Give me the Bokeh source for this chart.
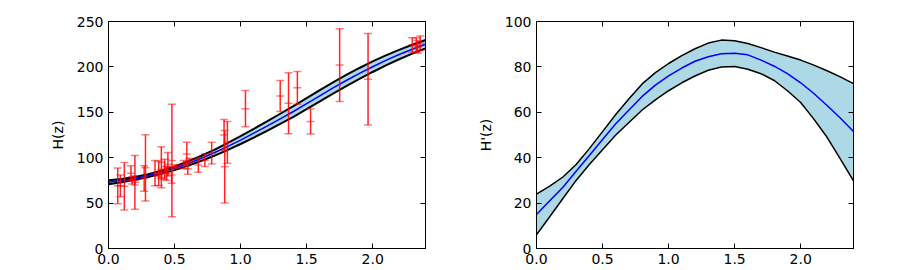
import numpy as np
from bokeh.plotting import figure
from bokeh.layouts import row
from bokeh.models import (ColumnDataSource, Whisker, TeeHead, Range1d, LinearAxis,
                          FixedTicker, PrintfTickFormatter, CustomJSTickFormatter)
from bokeh.embed import file_html
from bokeh.resources import INLINE

# ---- observational H(z) data ----
obs_z = [0.07, 0.09, 0.12, 0.17, 0.179, 0.199, 0.2, 0.27, 0.28, 0.352, 0.38, 0.3802,
         0.4, 0.4004, 0.4247, 0.43, 0.44, 0.4497, 0.4783, 0.48, 0.51, 0.57, 0.593,
         0.6, 0.61, 0.68, 0.73, 0.781, 0.875, 0.88, 0.9, 1.037, 1.3, 1.363, 1.43,
         1.53, 1.75, 1.965, 2.3, 2.33, 2.34, 2.36]
obs_H = [69, 69, 68.6, 83, 75, 75, 72.9, 77, 88.8, 83, 81.5, 83,
         95, 77, 87.1, 86.5, 82.6, 92.8, 80.9, 97, 90.4, 92.4, 104,
         87.9, 97.3, 92, 97.3, 105, 125, 90, 117, 154, 168, 160, 177,
         140, 202, 186.5, 224, 224, 222, 226]
obs_sigma = [19.6, 12, 26.2, 8, 4, 5, 29.6, 14, 36.6, 14, 1.9, 13.5,
             17, 10.2, 11.2, 3.7, 7.8, 12.9, 9, 62, 1.9, 4.5, 13,
             6.1, 2.1, 8, 7, 12, 17, 40, 23, 20, 17, 33.6, 18,
             14, 40, 50.4, 8, 8, 7, 8]

# ---- reconstructed H(z) ----
grid_z = [0.0, 0.1, 0.2, 0.3, 0.4, 0.5, 0.6, 0.7, 0.8, 0.9, 1.0, 1.1, 1.2,
          1.3, 1.4, 1.5, 1.6, 1.7, 1.8, 1.9, 2.0, 2.1, 2.2, 2.3, 2.4]
H_mean = [73, 74.8, 77.2, 80.2, 84, 88.3, 93.4, 99.1, 105.4, 112.2, 119.4, 127,
          134.8, 142.8, 150.9, 159.5, 168.2, 176.8, 185, 192.8, 200.2, 207.2,
          213.6, 219.5, 225]
H_sigma = [2.2, 1.8, 1.6, 1.6, 1.8, 2.0, 2.4, 2.8, 3.3, 3.8, 4.3, 4.8, 5.2,
           5.6, 5.9, 6.1, 6.2, 6.2, 6.1, 6.0, 5.8, 5.5, 5.2, 4.9, 4.6]

# ---- reconstructed H'(z) ----
dH_mean = [15, 21, 27, 34, 41, 48, 55, 61, 67, 72, 76, 79.5, 82.5,
           84.5, 85.8, 86, 85.3, 83, 80.3, 77, 73, 68.3, 63, 57.5, 51.5]
dH_upper = [24, 27.5, 31.5, 37, 44, 51.5, 59, 66, 72.5, 77.5, 81.5, 85, 88,
            90.5, 91.8, 91.5, 90.3, 88.5, 86.5, 84.8, 83, 80.8, 78.3, 75.6, 72.6]
dH_lower = [6, 14, 22, 30, 37, 43.5, 50, 55.5, 61, 65.5, 69.5, 73, 76,
            78.5, 80, 80.2, 79, 77, 74, 69.5, 64.3, 57, 49, 39.5, 29.8]

x_ticks = [0, 0.5, 1.0, 1.5, 2.0]
left_y_ticks = [0, 50, 100, 150, 200, 250]
right_y_ticks = [0, 20, 40, 60, 80, 100]

FONT = "DejaVu Sans"
FS = "14px"


def tick_style(ax):
    ax.major_tick_in = 5
    ax.major_tick_out = 0
    ax.minor_tick_in = 0
    ax.minor_tick_out = 0
    ax.major_tick_line_color = "black"
    ax.axis_line_color = "black"
    ax.major_label_text_font = FONT
    ax.major_label_text_font_size = FS
    ax.major_label_text_color = "black"


def style(p, yticks, ylabel):
    p.xgrid.visible = False
    p.ygrid.visible = False
    p.outline_line_color = "black"
    p.outline_line_width = 1
    p.background_fill_color = "white"
    p.border_fill_color = "white"

    bx = p.below[0]
    ly = p.left[0]
    bx.ticker = FixedTicker(ticks=x_ticks)
    bx.formatter = PrintfTickFormatter(format="%.1f")
    bx.major_label_standoff = 5
    ly.ticker = FixedTicker(ticks=yticks)
    ly.major_label_standoff = 5
    tick_style(bx)
    tick_style(ly)
    ly.axis_label = ylabel
    ly.axis_label_text_font = FONT
    ly.axis_label_text_font_size = FS
    ly.axis_label_text_font_style = "normal"
    ly.axis_label_text_color = "black"
    ly.axis_label_standoff = 8

    # tick marks on top and right, without labels
    blank = CustomJSTickFormatter(code="return ''")
    tx = LinearAxis(ticker=FixedTicker(ticks=x_ticks), formatter=blank)
    ry = LinearAxis(ticker=FixedTicker(ticks=yticks), formatter=blank)
    for ax in (tx, ry):
        tick_style(ax)
        ax.major_label_standoff = 0
    p.add_layout(tx, "above")
    p.add_layout(ry, "right")


# ---------------- left panel ----------------
p1 = figure(width=453, height=270, output_backend="svg", toolbar_location=None,
            x_range=Range1d(0, 2.4), y_range=Range1d(0, 250),
            min_border_left=108, min_border_right=28, min_border_top=21,
            min_border_bottom=22)
gz = np.array(grid_z)
hm = np.array(H_mean)
hs = np.array(H_sigma)
p1.varea(x=gz, y1=hm - hs, y2=hm + hs, fill_color="#add8e6")
p1.line(gz, hm + hs, line_color="black", line_width=2)
p1.line(gz, hm - hs, line_color="black", line_width=2)
p1.line(gz, hm, line_color="blue", line_width=1.5)

oz = np.array(obs_z)
oh = np.array(obs_H)
os_ = np.array(obs_sigma)
src = ColumnDataSource(dict(z=oz, H=oh, upper=oh + os_, lower=oh - os_))
w = Whisker(source=src, base="z", upper="upper", lower="lower", dimension="height",
            line_color="red", line_width=1.5, line_alpha=0.85,
            upper_head=TeeHead(size=8, line_color="red", line_alpha=0.5, line_width=1.5),
            lower_head=TeeHead(size=8, line_color="red", line_alpha=0.5, line_width=1.5))
w.level = "overlay"
p1.add_layout(w)
p1.scatter("z", "H", source=src, marker="dash", size=8, line_color="red",
           line_alpha=0.5, line_width=1.5)
style(p1, left_y_ticks, "H(z)")

# ---------------- right panel ----------------
p2 = figure(width=425, height=270, output_backend="svg", toolbar_location=None,
            x_range=Range1d(0, 2.4), y_range=Range1d(0, 100),
            min_border_left=83, min_border_right=25, min_border_top=21,
            min_border_bottom=22)
p2.varea(x=grid_z, y1=dH_lower, y2=dH_upper, fill_color="#add8e6")
p2.line(grid_z, dH_upper, line_color="black", line_width=1.5)
p2.line(grid_z, dH_lower, line_color="black", line_width=1.5)
p2.line(grid_z, dH_mean, line_color="blue", line_width=1.5)
style(p2, right_y_ticks, "H'(z)")

layout = row(p1, p2, spacing=0)
open("out.html", "w").write(file_html(layout, INLINE))
